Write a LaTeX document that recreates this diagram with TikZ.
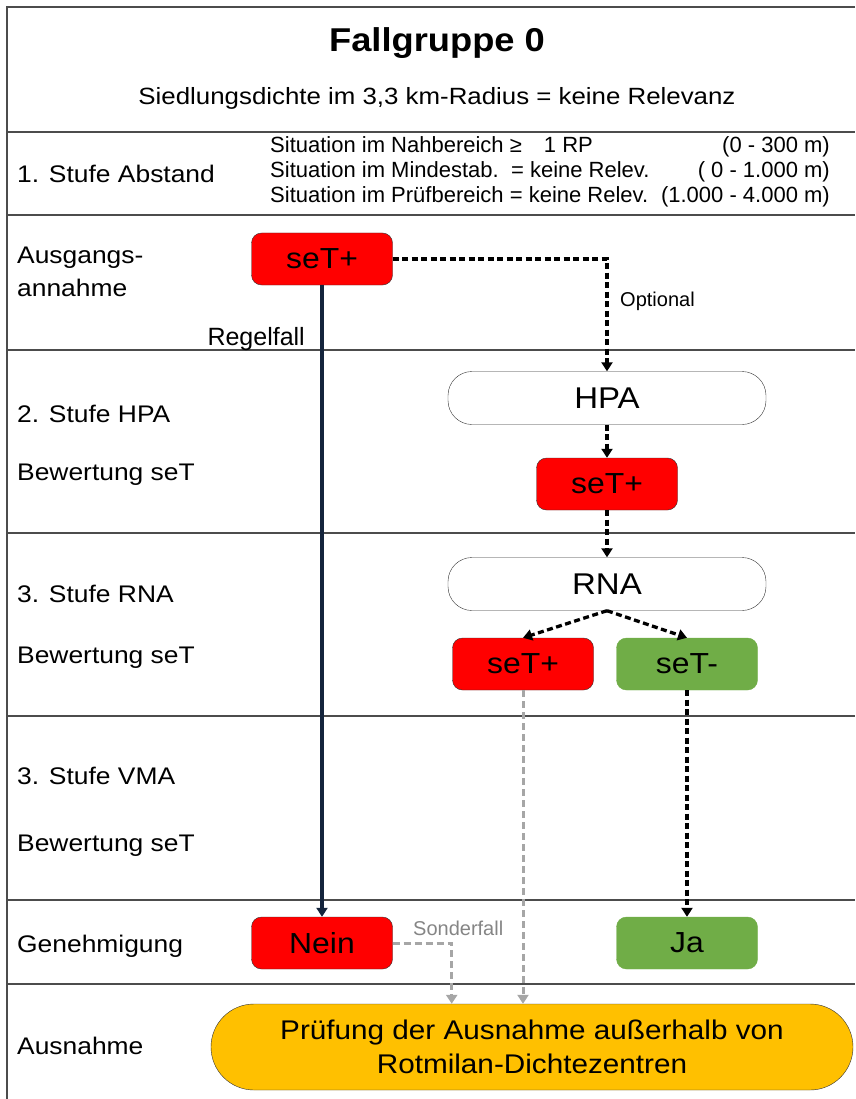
\documentclass[tikz,border=0pt]{standalone}
\usepackage{fontspec}
\setmainfont{Liberation Sans}[FakeStretch=1.1]
\newfontfamily\narrowfont{Liberation Sans}
\usepackage{xcolor}
\usetikzlibrary{calc,shapes,arrows.meta}
\definecolor{setred}{HTML}{FF0000}
\definecolor{setgreen}{HTML}{70AD47}
\definecolor{excyellow}{HTML}{FFC000}
\definecolor{navy}{HTML}{14243C}
\definecolor{altgray}{HTML}{A6A6A6}

\begin{document}
\begin{tikzpicture}[x=1pt,y=-1pt,>={Triangle[length=9pt,width=11pt]},
	lab/.style={anchor=base west, inner sep=0, font=\fontsize{24}{33}\selectfont, align=left},
	sit/.style={inner sep=0, font=\narrowfont\fontsize{22}{25}\selectfont},
	note/.style={anchor=base west, inner sep=0, font=\narrowfont\fontsize{20}{24}\selectfont},
	rbox/.style={rectangle, rounded corners=10pt, draw=black!80, fill=setred, minimum width=141pt, minimum height=52pt, inner sep=0, font=\fontsize{29}{30}\selectfont},
	gbox/.style={rbox, draw=setgreen, fill=setgreen},
	stage/.style={rectangle, rounded corners=24pt, draw=black!80, fill=white, minimum width=318pt, minimum height=53pt, inner sep=0, font=\fontsize{30}{30}\selectfont},
	exc/.style={rectangle, rounded corners=43pt, draw=black!80, fill=excyellow, minimum width=642pt, minimum height=86pt, inner sep=0, align=center, font=\fontsize{27}{34}\selectfont},
	rowline/.style={draw=black!70, line width=2pt},
	optlink/.style={->, line width=3.3pt, dash pattern=on 6pt off 3.5pt},
	mainlink/.style={->, line width=4.5pt, navy},
	altlink/.style={->, line width=3pt, altgray, dash pattern=on 7pt off 4pt}]

		\useasboundingbox (0,0) rectangle (855,1099);
		%frame and rows
		\draw[rowline] (855,7) -- (7,7) -- (7,1099);
		\foreach \y in {132,215,350,533,716,900,984} {
			\draw[rowline] (7,\y) -- (855,\y);
		}
		%header
		\node[anchor=base, inner sep=0, font=\bfseries\fontsize{33}{36}\selectfont] (title) at (437,52) {Fallgruppe 0};
		\node[anchor=base, inner sep=0, font=\fontsize{23.5}{28}\selectfont] (sub) at (437,105) {Siedlungsdichte im 3,3 km-Radius = keine Relevanz};
		%row labels
		\foreach \y/\t [count=\i] in {183/1. Stufe Abstand, 422/2. Stufe HPA, 480/Bewertung seT, 602/3. Stufe RNA, 663/Bewertung seT, 784/3. Stufe VMA, 851/Bewertung seT, 952/Genehmigung, 1054/Ausnahme} {
			\node[lab] (lab\i) at (17,\y) {\t};
		}
		\node[lab, anchor=north west] (labA) at (17,247) {Ausgangs-\\annahme};
		%distance situation
		\foreach \y/\l/\r [count=\i] in {153/Situation im Nahbereich ≥\quad 1 RP/(0 - 300 m), 178/Situation im Mindestab.\ \ = keine Relev./( 0 - 1.000 m), 203/Situation im Prüfbereich = keine Relev./(1.000 - 4.000 m)} {
			\node[sit, anchor=base west] (sitl\i) at (270,\y) {\l};
			\node[sit, anchor=base east] (sitr\i) at (830,\y) {\r};
		}

		%boxes
		\node[rbox] (s0) at (322,259) {seT+};
		\node[stage] (hpa) at (607,398) {HPA};
		\node[rbox] (s1) at (607,484) {seT+};
		\node[stage] (rna) at (607,584) {RNA};
		\node[rbox] (s2) at (523,664) {seT+};
		\node[gbox] (s3) at (687,664) {seT-};
		\node[rbox] (nein) at (322,943) {Nein};
		\node[gbox] (ja) at (687,943) {Ja};
		\node[exc] (aus) at (532,1047) {Prüfung der Ausnahme außerhalb von\\Rotmilan-Dichtezentren};

		%links
		\draw[mainlink] (s0.south) -- (nein.north);
		\node[sit, anchor=base east, font=\narrowfont\fontsize{25}{28}\selectfont] (regel) at (305,345) {Regelfall};
		\draw[optlink] (s0.east) -- (hpa.north |- s0.east) -- (hpa.north);
		\node[note] (opt) at (620,306) {Optional};
		\draw[optlink] (hpa.south) -- (s1.north);
		\draw[optlink] (s1.south) -- (rna.north);
		\draw[optlink] (rna.south) -- (s2.north);
		\draw[optlink] (rna.south) -- (s3.north);
		\draw[optlink] (s3.south) -- (ja.north);
		\draw[altlink] (s2.south) -- (s2.south |- aus.north);
		\draw[altlink] (nein.east) -- ++(59,0) coordinate (sf) -- (sf |- aus.north);
		\node[note, text=altgray!80!black] (sonder) at (413,935) {Sonderfall};
	\end{tikzpicture}
\end{document}
